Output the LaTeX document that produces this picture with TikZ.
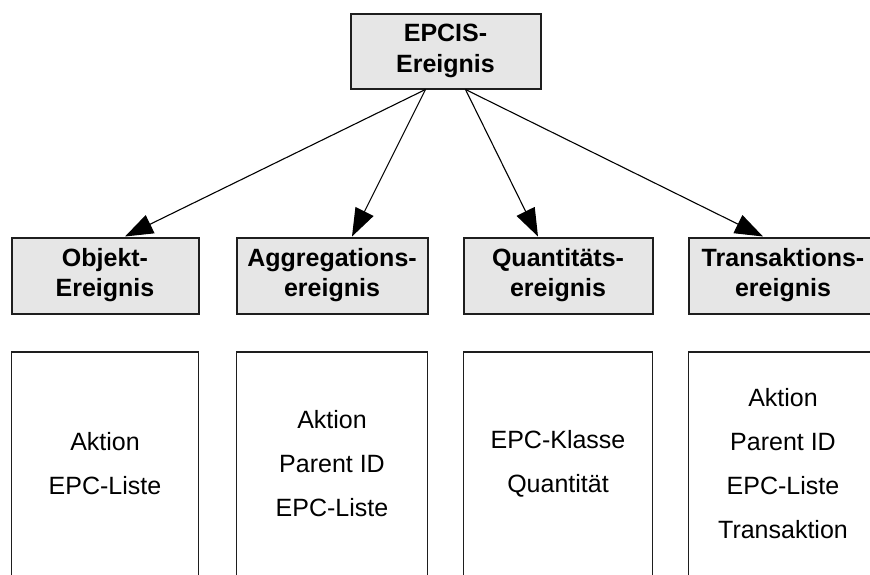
\documentclass[tikz,border=0pt]{standalone}
\usepackage{fontspec}
\setmainfont{Liberation Sans}
\usetikzlibrary{arrows.meta}
\definecolor{boxfill}{RGB}{230,230,230}
\definecolor{boxline}{RGB}{30,30,30}
\begin{document}
\begin{tikzpicture}[x=1pt,y=-1pt,
  headbox/.style={draw=boxline,line width=2pt,fill=boxfill,inner sep=0pt,
    align=center,minimum height=76pt,
    font=\fontsize{25}{30}\selectfont\bfseries},
  listbox/.style={draw=boxline,line width=1.6pt,fill=white,inner sep=0pt,
    align=center,minimum height=224pt,
    font=\fontsize{25}{44}\selectfont},
  link/.style={draw=black,line width=1.1pt,
    -{Triangle[length=28pt,width=20pt]}}]
\useasboundingbox (0,0) rectangle (870,574);

% root event type
\node[headbox,minimum width=190pt,minimum height=75pt,
  font=\fontsize{25}{31.5}\selectfont\bfseries] (top) at (445.5,51) {EPCIS-\\Ereignis};

% the four event types
\node[headbox,minimum width=187pt] (obj) at (105,275.5) {Objekt-\\Ereignis};
\node[headbox,minimum width=191pt] (agg) at (332,275.5) {Aggregations-\\ereignis};
\node[headbox,minimum width=189pt] (qua) at (558,275.5) {Quantitäts-\\ereignis};
\node[headbox,minimum width=189pt] (tra) at (783,275.5) {Transaktions-\\ereignis};

% their attributes
\node[listbox,minimum width=187pt] (objl) at (105,464) {Aktion\\EPC-Liste};
\node[listbox,minimum width=191pt] (aggl) at (332,464) {Aktion\\Parent ID\\EPC-Liste};
\node[listbox,minimum width=189pt] (qual) at (558,464) {EPC-Klasse\\Quantität};
\node[listbox,minimum width=189pt] (tral) at (783,464) {Aktion\\Parent ID\\EPC-Liste\\Transaktion};

% specialisation arrows
\draw[link] ([xshift=-20pt]top.south) -- ([xshift=20pt]obj.north);
\draw[link] ([xshift=-20pt]top.south) -- ([xshift=20pt]agg.north);
\draw[link] ([xshift=20pt]top.south) -- ([xshift=-20pt]qua.north);
\draw[link] ([xshift=20pt]top.south) -- ([xshift=-20pt]tra.north);
\end{tikzpicture}
\end{document}
